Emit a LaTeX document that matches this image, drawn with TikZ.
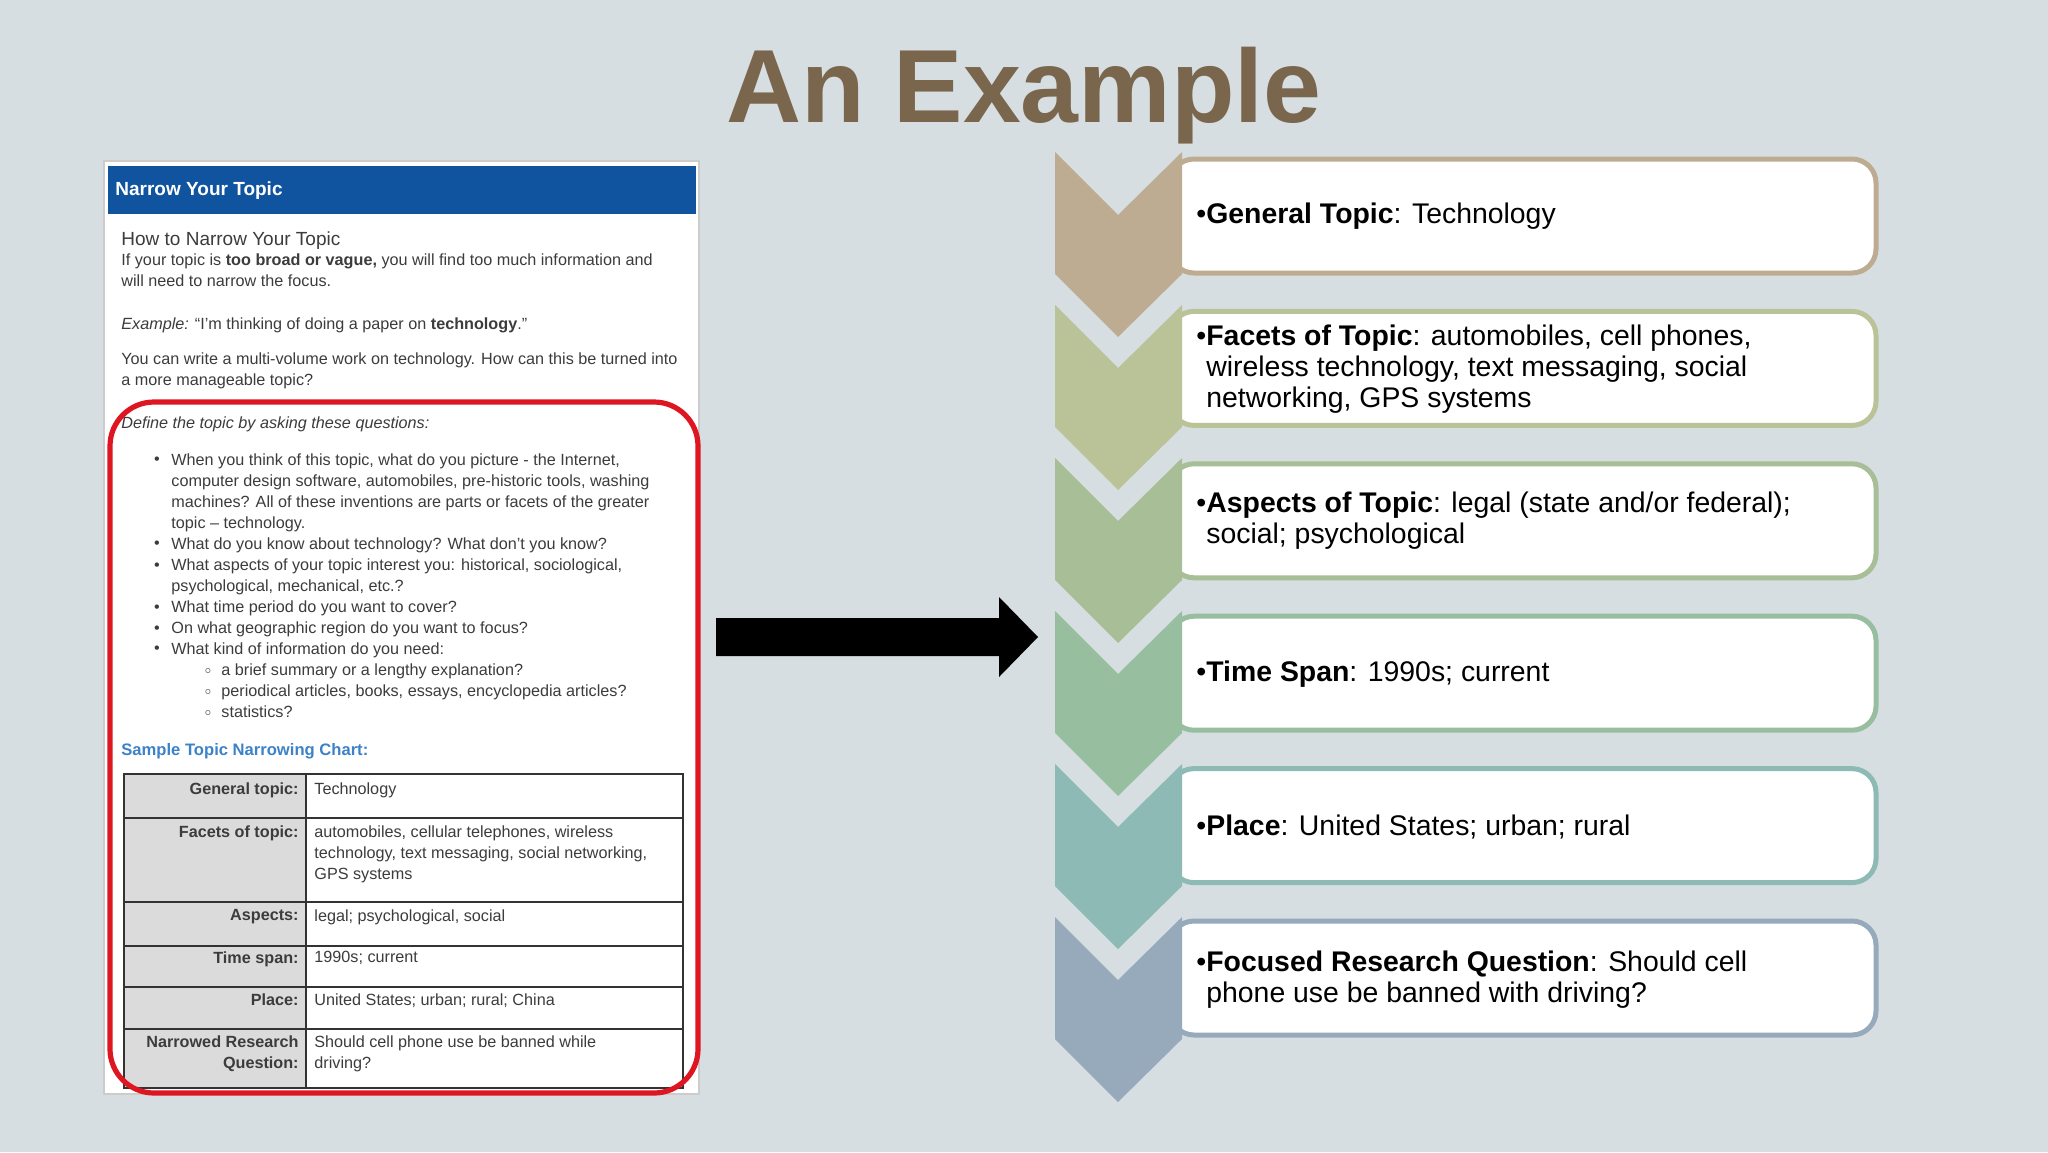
\documentclass[tikz,border=0pt]{standalone}
\usepackage{fontspec}
\setmainfont{Liberation Sans}
\definecolor{bg}{RGB}{214,222,226}
\definecolor{titlec}{RGB}{122,102,76}
\definecolor{hdr}{RGB}{16,84,160}
\definecolor{lnk}{RGB}{60,130,200}
\definecolor{redc}{RGB}{222,22,34}
\definecolor{cA}{RGB}{190,172,146}
\definecolor{cB}{RGB}{186,194,152}
\definecolor{cC}{RGB}{168,190,150}
\definecolor{cD}{RGB}{152,190,160}
\definecolor{cE}{RGB}{142,186,182}
\definecolor{cF}{RGB}{150,170,188}
\definecolor{txt}{RGB}{60,60,60}
\tikzset{
 small/.style={font=\fontsize{8.1}{10.5}\selectfont, text=txt, inner sep=0pt, align=left},
 boxtxt/.style={font=\fontsize{14.2}{15.5}\selectfont, inner sep=0pt, align=left, anchor=west},
 stepbox/.style={draw=#1, line width=2.5pt, fill=white, rounded corners=12pt},
 cell/.style={small, anchor=north west},
 lab/.style={small, anchor=north east, font=\fontsize{8.1}{10.5}\selectfont\bfseries},
}
\begin{document}
\begin{tikzpicture}[x=0.5pt,y=-0.5pt]
\fill[bg] (0,0) rectangle (2048,1152);
\useasboundingbox (0,0) rectangle (2048,1152);
\node[font=\fontsize{52}{60}\selectfont\bfseries, text=titlec] (title) at (1024,96) {An Example};
% left panel
\fill[white] (104,161) rectangle (699,1094);
\draw[gray!40, line width=1pt] (104,161) rectangle (699,1094);
\fill[hdr] (108,166) rectangle (696,214);
\node[small, text=white, anchor=west, font=\fontsize{9.5}{11}\selectfont\bfseries] (hdrt) at (115,191) {Narrow Your Topic};
\node[small, anchor=north west, font=\fontsize{9.5}{11}\selectfont] (how) at (121,231) {How to Narrow Your Topic};
\node[small, anchor=north west] (p1) at (121,253) {If your topic is \textbf{too broad or vague,} you will find too much information and\\will need to narrow the focus.};
\node[small, anchor=north west] (p2) at (121,317) {\textit{Example:} “I’m thinking of doing a paper on \textbf{technology}.”};
\node[small, anchor=north west] (p3) at (121,352) {You can write a multi-volume work on technology. How can this be turned into\\a more manageable topic?};
\node[small, anchor=north west, font=\fontsize{8.1}{10.5}\selectfont\itshape] (p4) at (121,416) {Define the topic by asking these questions:};
\foreach \y in {461,545,567,609,630,650} \node[small] at (157,\y) {•};
\node[small, anchor=north west] (b1) at (171,453) {When you think of this topic, what do you picture - the Internet,\\computer design software, automobiles, pre-historic tools, washing\\machines? All of these inventions are parts or facets of the greater\\topic – technology.\\What do you know about technology? What don’t you know?\\What aspects of your topic interest you: historical, sociological,\\psychological, mechanical, etc.?\\What time period do you want to cover?\\On what geographic region do you want to focus?\\What kind of information do you need:};
\foreach \y in {671,692,713} \node[small, font=\fontsize{5}{5}\selectfont] at (208,\y) {$\circ$};
\node[small, anchor=north west] (b2) at (221,663) {a brief summary or a lengthy explanation?\\periodical articles, books, essays, encyclopedia articles?\\statistics?};
\node[small, anchor=west, text=lnk, font=\fontsize{8.3}{10.5}\selectfont\bfseries] (sample) at (121,751) {Sample Topic Narrowing Chart:};
% table
\fill[gray!28] (124,774) rectangle (306,1088);
\foreach \a/\b in {774/818,818/902,902/946,946/987,987/1029,1029/1088}
  \draw[black!80, line width=1pt] (124,\a) rectangle (683,\b);
\draw[black!80, line width=1pt] (306,774) -- (306,1088);
\node[lab] at (299,782) {General topic:};
\node[cell] at (314,782) {Technology};
\node[lab] at (299,825) {Facets of topic:};
\node[cell] at (314,825) {automobiles, cellular telephones, wireless\\technology, text messaging, social networking,\\GPS systems};
\node[lab] at (299,909) {Aspects:};
\node[cell] at (314,909) {legal; psychological, social};
\node[lab] at (299,951) {Time span:};
\node[cell] at (314,951) {1990s; current};
\node[lab] at (299,993) {Place:};
\node[cell] at (314,993) {United States; urban; rural; China};
\node[lab, align=right] at (299,1035) {Narrowed Research\\Question:};
\node[cell] at (314,1035) {Should cell phone use be banned while\\driving?};
\draw[redc, line width=2.6pt, rounded corners=22pt] (110,402) rectangle (698,1093);
\node[inner sep=0pt, minimum width=295pt, minimum height=466pt] (panel) at (401.5,627) {};
% arrow
\coordinate (astart) at (716,637);
\coordinate (aend) at (1038,637);
\fill[black] (astart) ++(0,-19) -- (999,618) -- (999,597) -- (aend) -- (999,677) -- (999,656) -- (716,656) -- cycle;
% boxes and chevrons
\foreach \i/\c in {0/cA,1/cB,2/cC,3/cD,4/cE,5/cF}{
  \pgfmathsetmacro{\T}{159+152.4*\i}
  \pgfmathsetmacro{\B}{\T+114}
  \draw[stepbox=\c] (1170,\T) rectangle (1876,\B);
  \pgfmathsetmacro{\CT}{152+153*\i}
  \fill[\c] (1055,\CT) -- (1118,\CT+63) -- (1182,\CT) -- (1182,\CT+122) -- (1118,\CT+185) -- (1055,\CT+122) -- cycle;
}
\node[boxtxt] (t1) at (1196,216) {•\textbf{General Topic}: Technology};
\node[boxtxt] (t2) at (1196,369) {•\textbf{Facets of Topic}: automobiles, cell phones,\\\phantom{•}wireless technology, text messaging, social\\\phantom{•}networking, GPS systems};
\node[boxtxt] (t3) at (1196,521) {•\textbf{Aspects of Topic}: legal (state and/or federal);\\\phantom{•}social; psychological};
\node[boxtxt] (t4) at (1196,674) {•\textbf{Time Span}: 1990s; current};
\node[boxtxt] (t5) at (1196,827) {•\textbf{Place}: United States; urban; rural};
\node[boxtxt] (t6) at (1196,980) {•\textbf{Focused Research Question}: Should cell\\\phantom{•}phone use be banned with driving?};
\end{tikzpicture}
\end{document}
